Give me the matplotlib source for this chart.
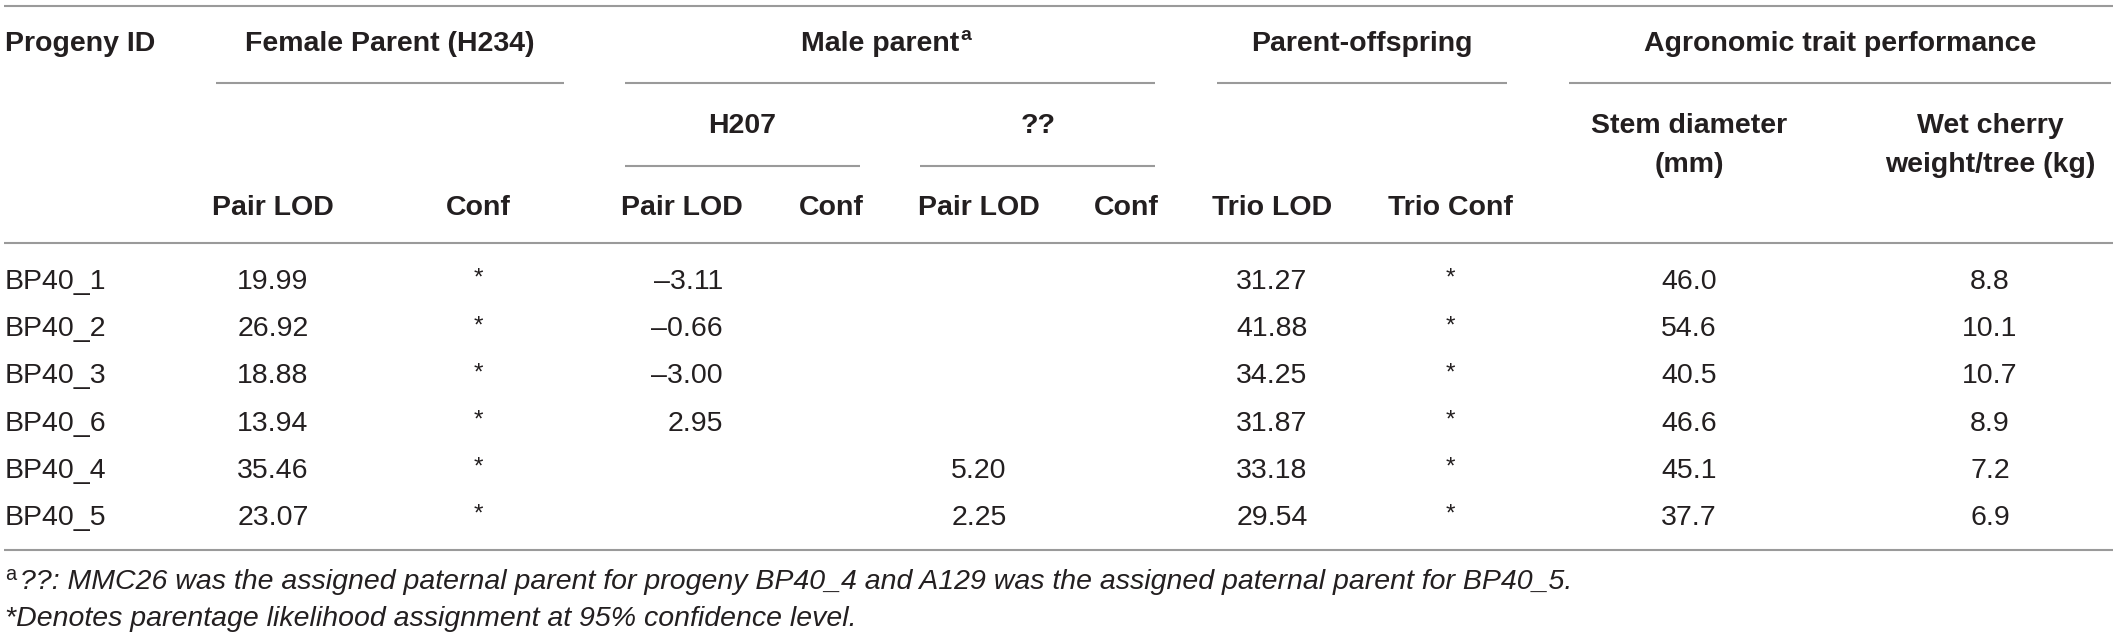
import matplotlib
matplotlib.use("Agg")
import matplotlib.pyplot as plt

# ---------------- data ----------------
progeny = ["BP40_1", "BP40_2", "BP40_3", "BP40_6", "BP40_4", "BP40_5"]
female_pair_lod = [19.99, 26.92, 18.88, 13.94, 35.46, 23.07]
female_conf = ["*", "*", "*", "*", "*", "*"]
h207_pair_lod = [-3.11, -0.66, -3.00, 2.95, None, None]
unknown_pair_lod = [None, None, None, None, 5.20, 2.25]
trio_lod = [31.27, 41.88, 34.25, 31.87, 33.18, 29.54]
trio_conf = ["*", "*", "*", "*", "*", "*"]
stem_diameter = [46.0, 54.6, 40.5, 46.6, 45.1, 37.7]
wet_cherry = [8.8, 10.1, 10.7, 8.9, 7.2, 6.9]

footnote_a = "??: MMC26 was the assigned paternal parent for progeny BP40_4 and A129 was the assigned paternal parent for BP40_5."
footnote_star = "*Denotes parentage likelihood assignment at 95% confidence level."

# ---------------- style ----------------
W, H = 2117, 637
plt.rcParams['font.family'] = ['Liberation Sans', 'DejaVu Sans']
TXT = "#231f20"
LINE = "#9a9a9a"
FS = 20.5
LW = 1.5

fig = plt.figure(figsize=(W / 100, H / 100), dpi=100)
ax = fig.add_axes([0, 0, 1, 1])
ax.set_xlim(0, W)
ax.set_ylim(H, 0)
ax.axis("off")


def hline(y, x0, x1):
    ax.plot([x0, x1], [y, y], color=LINE, lw=LW, solid_capstyle="butt")


def txt(x, y, s, ha="center", bold=False, italic=False, size=FS):
    return ax.text(x, y, s, ha=ha, va="baseline", color=TXT, fontsize=size,
                   fontweight="bold" if bold else "normal",
                   fontstyle="italic" if italic else "normal")


def fmt(v, nd=2):
    if v is None:
        return ""
    s = f"{abs(v):.{nd}f}"
    return ("\u2013" + s) if v < 0 else s


# rules
hline(6, 4, 2113)
hline(82.5, 216, 564)      # female
hline(82.5, 625, 1155)     # male
hline(82.5, 1217, 1507)    # parent-offspring
hline(82.5, 1569, 2111)    # agronomic
hline(166, 625, 860)       # H207
hline(166, 920, 1155)      # ??
hline(243, 4, 2113)
hline(550, 4, 2113)

# header row 1
txt(5, 51, "Progeny ID", ha="left", bold=True)
txt(390, 51, "Female Parent (H234)", bold=True)
male = txt(880, 51, "Male parent", bold=True)
txt(1362, 51, "Parent-offspring", bold=True)
txt(1840, 51, "Agronomic trait performance", bold=True)

# header row 2
txt(742, 133, "H207", bold=True)
txt(1038, 133, "??", bold=True)
txt(1689, 133, "Stem diameter", bold=True)
txt(1689, 172, "(mm)", bold=True)
txt(1990, 133, "Wet cherry", bold=True)
txt(1990, 172, "weight/tree (kg)", bold=True)

# header row 3
col_x = {"f_lod": 273, "f_conf": 478, "h_lod": 682, "h_conf": 831,
         "u_lod": 979, "u_conf": 1126, "t_lod": 1272, "t_conf": 1450}
txt(col_x["f_lod"], 215, "Pair LOD", bold=True)
txt(col_x["f_conf"], 215, "Conf", bold=True)
txt(col_x["h_lod"], 215, "Pair LOD", bold=True)
txt(col_x["h_conf"], 215, "Conf", bold=True)
txt(col_x["u_lod"], 215, "Pair LOD", bold=True)
txt(col_x["u_conf"], 215, "Conf", bold=True)
txt(col_x["t_lod"], 215, "Trio LOD", bold=True)
txt(col_x["t_conf"], 215, "Trio Conf", bold=True)

# body
y0, dy = 289, 47.2
for i, pid in enumerate(progeny):
    y = y0 + i * dy
    txt(5, y, pid, ha="left")
    txt(col_x["f_lod"], y, fmt(female_pair_lod[i]))
    txt(col_x["f_conf"], y - 4, female_conf[i], size=FS * 0.85)
    txt(723, y, fmt(h207_pair_lod[i]), ha="right")
    txt(col_x["u_lod"], y, fmt(unknown_pair_lod[i]))
    txt(col_x["t_lod"], y, fmt(trio_lod[i]))
    txt(col_x["t_conf"], y - 4, trio_conf[i], size=FS * 0.85)
    txt(1689, y, fmt(stem_diameter[i], 1))
    txt(1990, y, fmt(wet_cherry[i], 1))

# footnotes
txt(5, 580, "a", ha="left", size=FS * 0.7)
txt(20, 589, footnote_a, ha="left", italic=True)
txt(5, 626, footnote_star, ha="left", italic=True)

# superscript after "Male parent"
fig.canvas.draw()
r = fig.canvas.get_renderer()
bb = male.get_window_extent(r)
inv = ax.transData.inverted()
xr, _ = inv.transform((bb.x1, bb.y0))
ax.text(xr + 1, 40, "a", ha="left", va="baseline", color=TXT,
        fontsize=FS * 0.68, fontweight="bold")

fig.savefig("out.png", dpi=100, facecolor="white")
